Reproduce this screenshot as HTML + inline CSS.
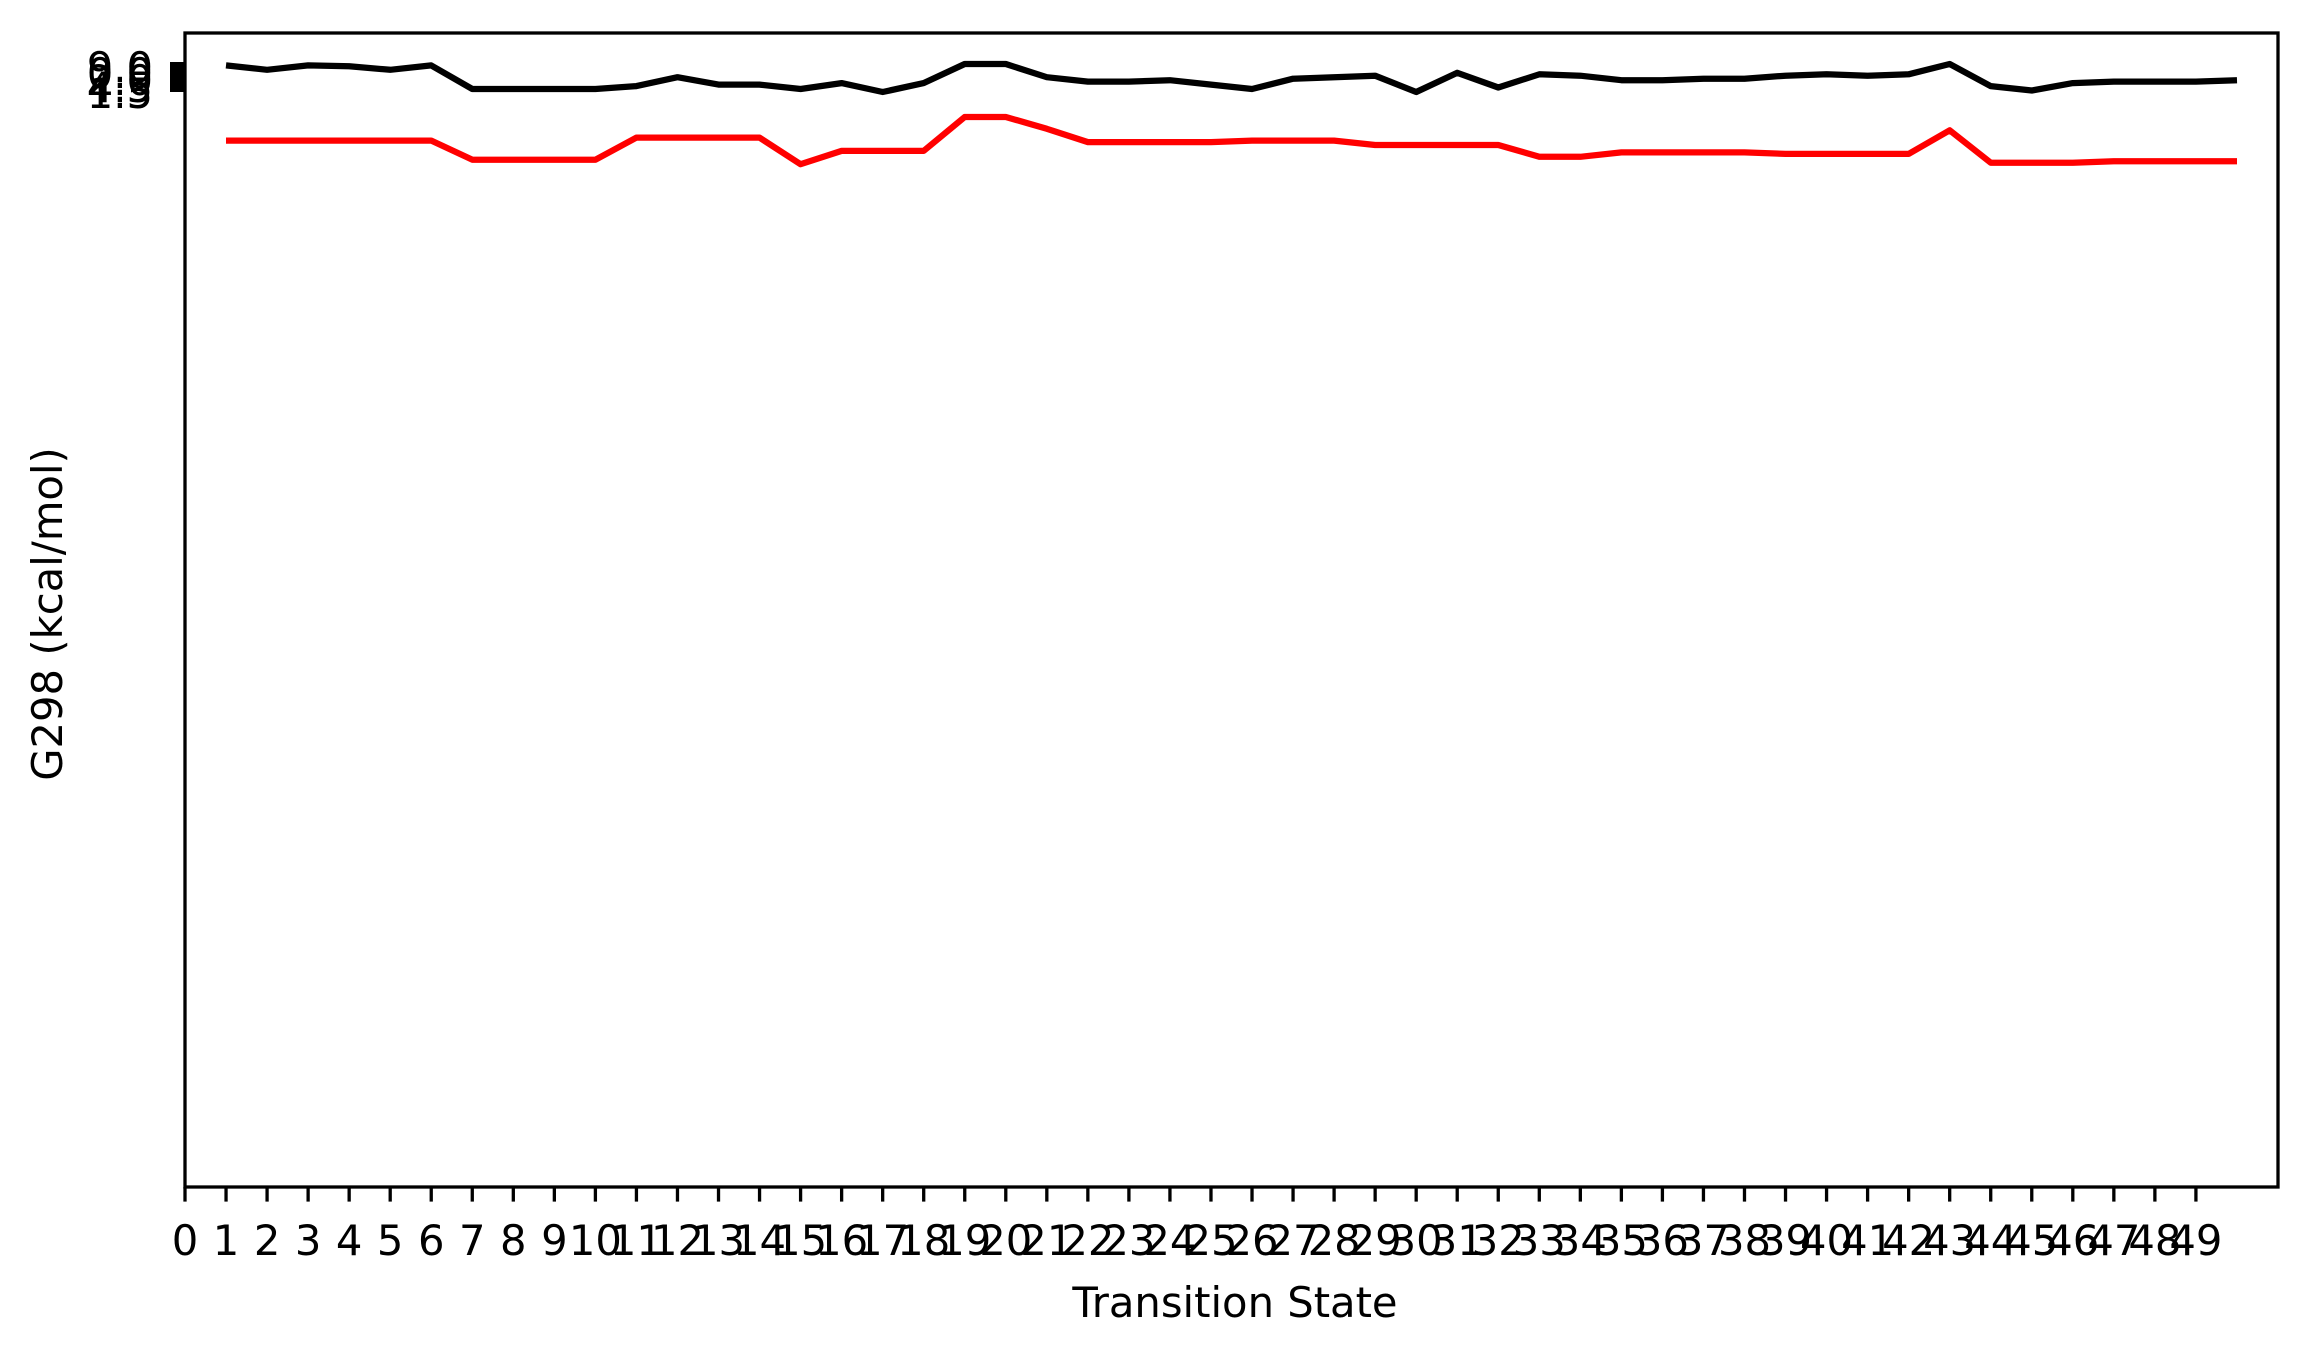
<!DOCTYPE html>
<html><head><meta charset="utf-8"><style>
html,body{margin:0;padding:0;background:#fff;}
svg{display:block;}
text{font-family:"DejaVu Sans","Liberation Sans",sans-serif;}
</style></head><body>
<svg id="chart" width="2310" height="1348" xmlns="http://www.w3.org/2000/svg">
<rect x="0" y="0" width="2310" height="1348" fill="#fff"/>
<g id="yticks">
<rect x="170" y="62" width="15" height="30" fill="#000"/>
<text x="153" y="82" font-size="41.7" text-anchor="end">9.0</text>
<text x="153" y="88" font-size="41.7" text-anchor="end">0.0</text>
<text x="153" y="95" font-size="41.7" text-anchor="end">2.0</text>
<text x="153" y="102" font-size="41.7" text-anchor="end">4.5</text>
<text x="153" y="108" font-size="41.7" text-anchor="end">1.5</text>
</g>
<g id="series"></g>
<g id="xticks"></g>
<rect x="185" y="33" width="2093" height="1154" fill="none" stroke="#000" stroke-width="3.3"/>
<text x="1235" y="1317" font-size="41.7" text-anchor="middle">Transition State</text>
<text x="0" y="0" font-size="41.7" text-anchor="middle" transform="translate(62,614) rotate(-90)">G298 (kcal/mol)</text>
</svg>
<script>
const xTickLabels = Array.from({length:50},(_,i)=>String(i));
const states = Array.from({length:50},(_,i)=>i+1);
const blackValues = [761,758,761,760.5,758,761,745,745,745,745,747,753,748,748,745,749,743,749,762,762,753,750,750,751,748,745,752,753,754,743,756,746,755,754,751,751,752,752,754,755,754,755,762,747,744,749,750,750,750,751];
const redValues = [710,710,710,710,710,710,697,697,697,697,712,712,712,712,694,703,703,703,726,726,718,709,709,709,709,710,710,710,707,707,707,707,699,699,702,702,702,702,701,701,701,701,717,695,695,695,696,696,696,696];

const X0=185, X1=2278, Y0=1187, Y1=33;
const xMin=0, xMax=51;
const yMin=0, yMax=783;
function xs(v){return X0+(v-xMin)/(xMax-xMin)*(X1-X0);}
function ys(v){return Y0-(v-yMin)/(yMax-yMin)*(Y0-Y1);}
const NS="http://www.w3.org/2000/svg";
const series=document.getElementById('series');
function drawLine(vals,color,name){
  const p=document.createElementNS(NS,'polyline');
  p.setAttribute('points',vals.map((v,i)=>xs(states[i]).toFixed(1)+','+ys(v).toFixed(1)).join(' '));
  p.setAttribute('fill','none');
  p.setAttribute('stroke',color);
  p.setAttribute('stroke-width','6.25');
  p.setAttribute('stroke-linejoin','round');
  
  
  series.appendChild(p);
}
drawLine(blackValues,'#000','series-black-line');
drawLine(redValues,'#ff0000','series-red-line');
const xt=document.getElementById('xticks');
xTickLabels.forEach((lab,i)=>{
  const x=xs(i);
  const l=document.createElementNS(NS,'line');
  l.setAttribute('x1',x);l.setAttribute('x2',x);
  l.setAttribute('y1',Y0);l.setAttribute('y2',Y0+14.6);
  l.setAttribute('stroke','#000');l.setAttribute('stroke-width','3.3');
  
  
  xt.appendChild(l);
  const t=document.createElementNS(NS,'text');
  t.setAttribute('x',x);t.setAttribute('y',Y0+68);
  t.setAttribute('font-size','41.7');t.setAttribute('text-anchor','middle');
  t.textContent=lab;
  
  
  xt.appendChild(t);
});
</script>
</body></html>
